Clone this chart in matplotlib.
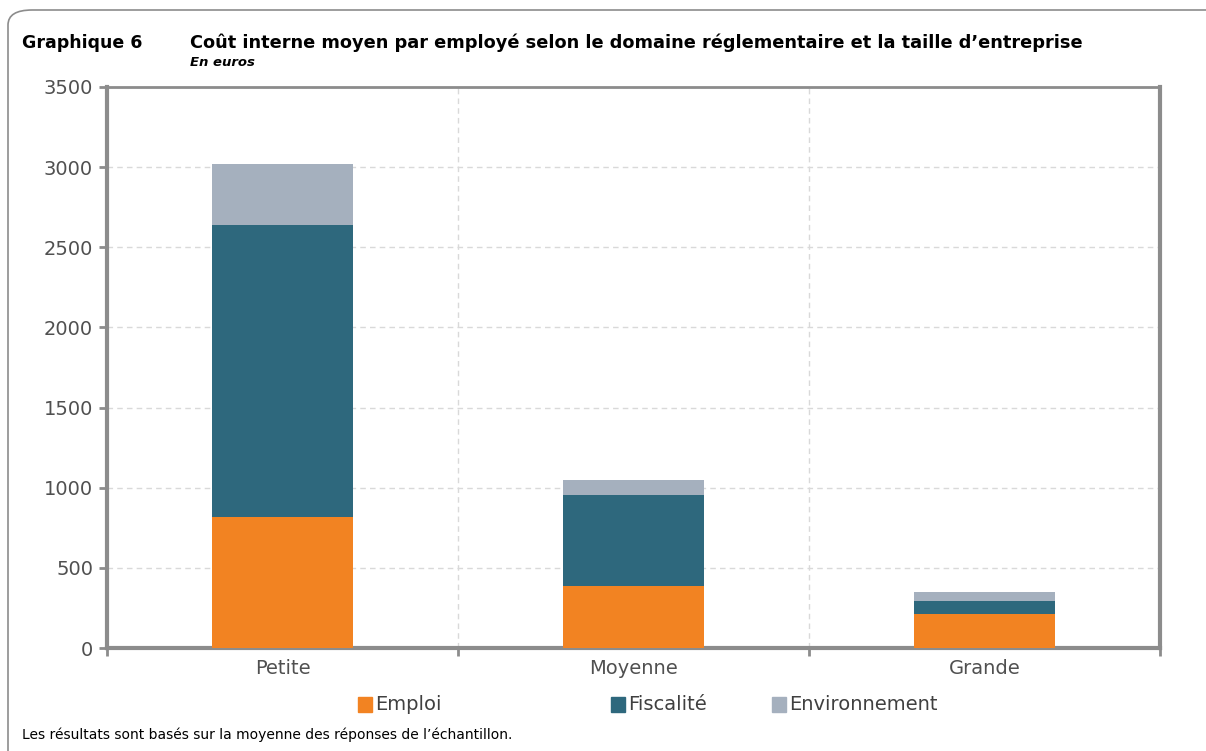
import matplotlib.pyplot as plt
import numpy as np
from matplotlib.patches import FancyBboxPatch

# Données
categories = ["Petite", "Moyenne", "Grande"]
emploi = [820, 385, 215]
fiscalite = [1820, 570, 80]
environnement = [380, 95, 55]

colors = ["#F28322", "#2E687D", "#A5B0BE"]
labels = ["Emploi", "Fiscalité", "Environnement"]

fig = plt.figure(figsize=(12.06, 7.51), dpi=100)
ax = fig.add_axes([107 / 1206, 1 - 648 / 751, 1053 / 1206, 561 / 751])

x = np.arange(len(categories))
ax.bar(x, emploi, width=0.4, color=colors[0], zorder=3)
ax.bar(x, fiscalite, width=0.4, bottom=emploi, color=colors[1], zorder=3)
bottom2 = np.array(emploi) + np.array(fiscalite)
ax.bar(x, environnement, width=0.4, bottom=bottom2, color=colors[2], zorder=3)

ax.set_xlim(-0.5, 2.5)
ax.set_ylim(0, 3500)
ax.set_yticks(np.arange(0, 3501, 500))
ax.set_xticks(x)
ax.set_xticklabels(categories)
ax.set_xticks([-0.5, 0.5, 1.5, 2.5], minor=True)

ax.grid(axis="y", color="#D9D9D9", linestyle=(0, (4, 3)), linewidth=1, zorder=0)
ax.grid(axis="x", which="minor", color="#D9D9D9", linestyle=(0, (4, 3)), linewidth=1, zorder=0)

for s in ax.spines.values():
    s.set_color("#8C8C8C")
    s.set_linewidth(3)
ax.spines["top"].set_linewidth(2)

ax.tick_params(axis="y", colors="#8C8C8C", length=6, width=2, labelcolor="#505050", labelsize=14, pad=4)
ax.tick_params(axis="x", which="major", length=0, labelcolor="#505050", labelsize=14, pad=8)
ax.tick_params(axis="x", which="minor", length=6, width=2, colors="#8C8C8C")

# Titre
fig.text(22 / 1206, 1 - 43 / 751, "Graphique 6", fontsize=12.5, fontweight="bold", va="center")
fig.text(190 / 1206, 1 - 43 / 751,
         "Coût interne moyen par employé selon le domaine réglementaire et la taille d\u2019entreprise",
         fontsize=12.8, fontweight="bold", va="center")
fig.text(190 / 1206, 1 - 62 / 751, "En euros", fontsize=9.5, fontweight="bold", style="italic", va="center")

# Légende
leg_x = [358, 611, 772]
for lx, c, lab in zip(leg_x, colors, labels):
    fig.patches.append(plt.Rectangle((lx / 1206, 1 - 712 / 751), 14 / 1206, 15 / 751,
                                     transform=fig.transFigure, color=c))
    fig.text((lx + 17) / 1206, 1 - 704 / 751, lab, fontsize=14, color="#404040", va="center")

fig.text(22 / 1206, 1 - 735 / 751, "Les résultats sont basés sur la moyenne des réponses de l\u2019échantillon.",
         fontsize=10, va="center")

# Cadre
frame = FancyBboxPatch((8 / 1206, -0.05), 1.2, 1 - 10 / 751 + 0.05,
                       boxstyle="round,pad=0,rounding_size=0.02", transform=fig.transFigure,
                       fill=False, edgecolor="#8C8C8C", linewidth=1.2)
fig.patches.append(frame)

fig.savefig("out.png", dpi=100)
